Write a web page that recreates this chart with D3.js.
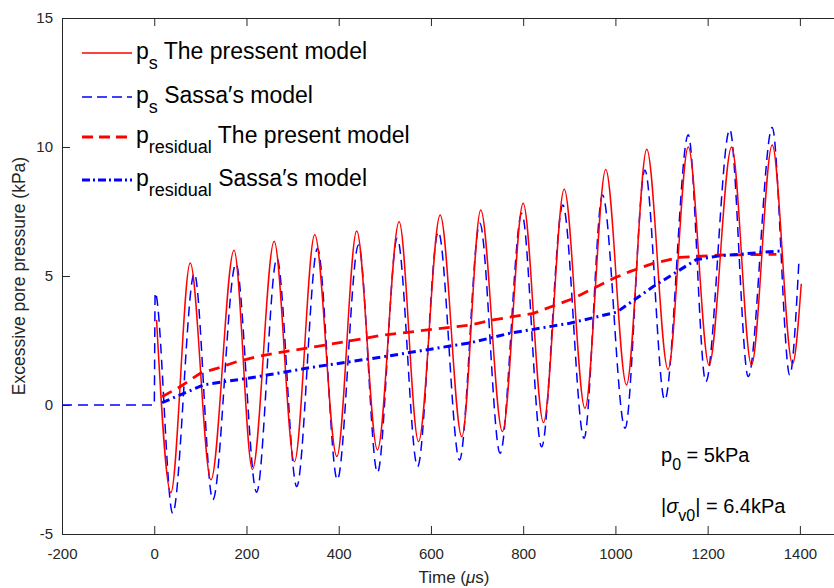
<!DOCTYPE html>
<html>
<head>
<meta charset="utf-8">
<script src="https://cdn.jsdelivr.net/npm/d3@7"></script>
<style>
  body { margin: 0; background: #fff; }
  text { font-family: "Liberation Sans", Arial, Helvetica, sans-serif; }
</style>
</head>
<body>
<svg id="chart" width="834" height="588"></svg>
<script>
// p_s, present model: [time (us), pressure (kPa)] at peaks / troughs
let psPresent = [
  [5, 3.3], [36, -3.4], [78, 5.5], [123, -2.9], [173, 6.0], [213, -2.5],
  [260, 6.35], [304, -2.2], [348, 6.6], [396, -2.0], [439, 6.74], [484, -1.74],
  [531, 7.1], [573, -1.42], [620, 7.36], [667, -1.23], [708, 7.56], [755, -1.03],
  [800, 7.82], [844, -0.68], [889, 8.36], [934, -0.13], [979, 9.13], [1024, 0.78],
  [1068, 9.91], [1114, 1.38], [1158, 10.0], [1203, 1.55], [1252, 10.0], [1295, 1.55],
  [1340, 10.08], [1384, 1.59], [1403, 4.7]
]

// p_s, Sassa's model
let psSassa = [
  [-200, 0], [0, 0], [2, 4.35], [40, -4.2], [87, 5.1], [127, -3.68], [177, 5.47],
  [222, -3.38], [266, 5.68], [309, -3.16], [354, 6.07], [397, -2.9], [443, 6.2],
  [484, -2.62], [527, 6.46], [571, -2.39], [616, 6.72], [662, -2.13], [706, 7.04],
  [750, -1.87], [797, 7.43], [840, -1.62], [886, 7.75], [932, -1.29], [972, 8.14],
  [1021, -0.9], [1064, 9.1], [1107, 0.19], [1158, 10.47], [1196, 0.9], [1248, 10.68],
  [1288, 1.1], [1340, 10.76], [1378, 1.16], [1398, 5.6]
]

// residual pressure, present model
let resPresent = [
  [17, 0.32], [56, 0.71], [100, 1.23], [136, 1.42], [179, 1.68], [223, 1.87],
  [259, 2.0], [331, 2.2], [497, 2.71], [685, 3.1], [735, 3.3], [822, 3.55],
  [909, 4.13], [995, 4.9], [1031, 5.17], [1082, 5.49], [1140, 5.72], [1226, 5.81],
  [1349, 5.84]
]

// residual pressure, Sassa's model
let resSassa = [
  [17, 0.09], [64, 0.45], [107, 0.78], [150, 0.9], [201, 1.03], [244, 1.16],
  [287, 1.29], [338, 1.45], [497, 1.87], [685, 2.41], [771, 2.78], [901, 3.17],
  [1003, 3.6], [1082, 4.59], [1176, 5.64], [1226, 5.78], [1356, 5.97]
]

let xTicks = [-200, 0, 200, 400, 600, 800, 1000, 1200, 1400]
let yTicks = [-5, 0, 5, 10, 15]

let svg = d3.select("#chart")
let mLeft = 62, mRight = 846, mTop = 18, mBottom = 534
let axisColor = "#262626"

let x = d3.scaleLinear().domain([-200, 1500]).range([mLeft, mRight])
let y = d3.scaleLinear().domain([-5, 15]).range([mBottom, mTop])

// axes (plain hyphen minus, no thousands separator)
let fmt = (d) => String(d)

let gx = svg.append("g")
  .attr("transform", "translate(0," + mBottom + ")")
  .call(d3.axisBottom(x).tickValues(xTicks).tickFormat(fmt).tickSizeInner(-8).tickSizeOuter(0).tickPadding(14))
let gxTop = svg.append("g")
  .attr("transform", "translate(0," + mTop + ")")
  .call(d3.axisTop(x).tickValues(xTicks).tickSizeInner(-8).tickSizeOuter(0).tickFormat(""))
let gy = svg.append("g")
  .attr("transform", "translate(" + mLeft + ",0)")
  .call(d3.axisLeft(y).tickValues(yTicks).tickFormat(fmt).tickSizeInner(-8).tickSizeOuter(0).tickPadding(9))

;[gx, gxTop, gy].forEach((g) => {
  g.selectAll("path, line").attr("stroke", axisColor).attr("stroke-width", 1)
  g.selectAll("text").attr("fill", axisColor).attr("font-size", "15px")
    .style("font-family", "'Liberation Sans', Arial, sans-serif")
})

// axis labels
svg.append("text")
  .attr("x", (mLeft + mRight) / 2)
  .attr("y", 583)
  .attr("text-anchor", "middle")
  .attr("font-size", "17px")
  .attr("fill", axisColor)
  .call((t) => {
    t.append("tspan").text("Time (")
    t.append("tspan").attr("font-style", "italic").text("\u03bc")
    t.append("tspan").text("s)")
  })

svg.append("text")
  .attr("transform", "translate(25," + ((mTop + mBottom) / 2) + ") rotate(-90)")
  .attr("text-anchor", "middle")
  .attr("font-size", "17.5px")
  .attr("fill", axisColor)
  .text("Excessive pore pressure (kPa)")

// series
let smooth = d3.line().x((d) => x(d[0])).y((d) => y(d[1])).curve(d3.curveMonotoneX)
let straight = d3.line().x((d) => x(d[0])).y((d) => y(d[1]))

let series = [
  { data: psSassa, line: smooth, color: "#0000ff", width: 1.5, dash: "10,6" },
  { data: psPresent, line: smooth, color: "#ff0000", width: 1.5, dash: null },
  { data: resPresent, line: straight, color: "#ff0000", width: 2.8, dash: "11,7" },
  { data: resSassa, line: straight, color: "#0000ff", width: 3, dash: "8,4,2,4" }
]

series.forEach((s) => {
  svg.append("path")
    .datum(s.data)
    .attr("fill", "none")
    .attr("stroke", s.color)
    .attr("stroke-width", s.width)
    .attr("stroke-dasharray", s.dash)
    .attr("d", s.line)
})

// legend
let legend = [
  { sub: "s", label: " The pressent model", color: "#ff0000", width: 1.5, dash: null },
  { sub: "s", label: " Sassa\u2032s model", color: "#0000ff", width: 1.5, dash: "10,5" },
  { sub: "residual", label: " The present model", color: "#ff0000", width: 2.8, dash: "11,6" },
  { sub: "residual", label: " Sassa\u2032s model", color: "#0000ff", width: 3, dash: "8,3,2,3" }
]
let legendY = [53, 97, 137, 180]

legend.forEach((d, i) => {
  let ly = legendY[i]
  svg.append("line")
    .attr("x1", 82).attr("x2", 132)
    .attr("y1", ly).attr("y2", ly)
    .attr("stroke", d.color)
    .attr("stroke-width", d.width)
    .attr("stroke-dasharray", d.dash)
  let t = svg.append("text")
    .attr("x", 136)
    .attr("y", ly + 6)
    .attr("font-size", "23px")
    .attr("fill", "#000")
  t.append("tspan").text("p")
  t.append("tspan").attr("font-size", "18px").attr("dy", 10).text(d.sub)
  t.append("tspan").attr("dy", -10).text(d.label)
})

// annotations
let a1 = svg.append("text").attr("x", 661).attr("y", 462).attr("font-size", "20px").attr("fill", "#000")
a1.append("tspan").text("p")
a1.append("tspan").attr("font-size", "16px").attr("dy", 8).text("0")
a1.append("tspan").attr("dy", -8).text(" = 5kPa")

let a2 = svg.append("text").attr("x", 661).attr("y", 513).attr("font-size", "20px").attr("fill", "#000")
a2.append("tspan").text("|")
a2.append("tspan").attr("font-style", "italic").text("\u03c3")
a2.append("tspan").attr("font-size", "16px").attr("dy", 8).text("v0")
a2.append("tspan").attr("dy", -8).text("| = 6.4kPa")
</script>
</body>
</html>
